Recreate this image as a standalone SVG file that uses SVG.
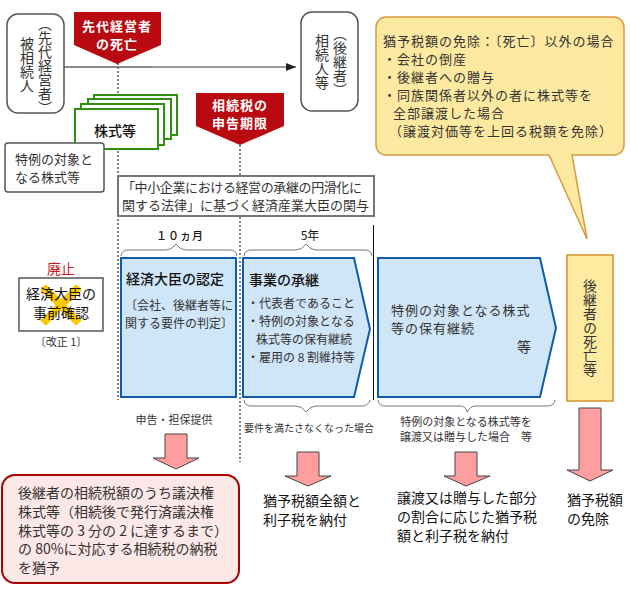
<svg xmlns="http://www.w3.org/2000/svg" width="630" height="600" viewBox="0 0 630 600">
<style>
text{font-family:"Noto Sans CJK JP","Noto Sans",sans-serif;fill:#333}
.dk{fill:#111}
.w{fill:#fff;font-weight:700;font-size:13px;letter-spacing:1px;text-anchor:middle}
.v{writing-mode:vertical-rl;text-anchor:middle;font-size:14px}
.t13{font-size:13px}.t14{font-size:14px}.t12{font-size:12px}.t11{font-size:11px}
.c{font-size:13px;letter-spacing:1px}
.rb{fill:#fff;stroke:#555;stroke-width:1.5}
.red{fill:#b80a10}
.st{fill:#fff;stroke:#2f9010;stroke-width:2}
.bl{fill:#cfe5f8;stroke:#0f5ca8;stroke-width:2}
.dot{fill:none;stroke:#555;stroke-width:1.5;stroke-dasharray:2 2}
.br{fill:none;stroke:#777;stroke-width:1}
.ar{fill:#ff9e9e;stroke:#444;stroke-width:1}
</style>
<defs><marker id="ah" markerWidth="10" markerHeight="8" refX="10" refY="4" orient="auto" markerUnits="userSpaceOnUse"><path d="M0 0L10 4L0 8Z" fill="#222"/></marker></defs>
<g id="connectors">
<path class="dot" d="M118 63V400"/>
<path class="dot" d="M240 145V462"/>
<path d="M64 67H152" stroke="#666" stroke-width="1.5" fill="none"/>
<path d="M152 67H296" stroke="#333" stroke-width="1" fill="none" marker-end="url(#ah)"/>
<path d="M373.500 225V400" stroke="#111" stroke-width="1" fill="none"/>
</g>
<g id="hisouzokunin"><rect class="rb" x="7" y="14" width="57" height="99" rx="11"/>
<text class="v" x="27" y="65">被相続人</text><text class="v" x="45" y="66">（先代経営者）</text></g>
<g id="souzokunin"><rect class="rb" x="301" y="12" width="57" height="99" rx="11"/>
<text class="v" x="322" y="62">相続人等</text><text class="v" x="340" y="62">（後継者）</text></g>
<g id="shibou"><path class="red" d="M74 12H161V45L117 64L74 45Z"/><text class="w" x="117" y="31">先代経営者</text><text class="w" x="117" y="49">の死亡</text></g>
<g id="kabushiki"><rect class="st" x="94" y="95" width="83" height="40"/><rect class="st" x="88" y="99" width="83" height="40"/><rect class="st" x="81" y="104" width="83" height="41"/><rect class="st" x="75" y="109" width="83" height="40"/>
<text class="t14 dk" x="115" y="136" text-anchor="middle" font-weight="500">株式等</text></g>
<g id="tokurei"><rect class="rb" x="5" y="143" width="99" height="49" rx="3"/><text class="t13" x="15" y="164">特例の対象と</text><text class="t13" x="15" y="182">なる株式等</text></g>
<g id="kigen"><path class="red" d="M196 93H284V126L240 145L196 126Z"/><text class="w" x="240" y="110">相続税の</text><text class="w" x="240" y="128">申告期限</text></g>
<g id="hou"><rect x="118" y="176" width="256" height="40" fill="#fff" stroke="#777" stroke-width="2"/>
<text class="t13" x="122" y="192" textLength="240">「中小企業における経営の承継の円滑化に</text><text class="t13" x="122" y="210">関する法律」に基づく経済産業大臣の関与</text></g>
<g id="menjo"><path d="M386 17H614A10 10 0 0 1 624 27V145A10 10 0 0 1 614 155H572L587 239L549 155H386A10 10 0 0 1 376 145V27A10 10 0 0 1 386 17Z" fill="#fde9a0" stroke="#d89a40" stroke-width="1.500"/>
<text class="c" x="383" y="46">猶予税額の免除：〔死亡〕以外の場合</text>
<text class="c" x="383" y="64">・会社の倒産</text><text class="c" x="383" y="82">・後継者への贈与</text><text class="c" x="383" y="100">・同族関係者以外の者に株式等を</text><text class="c" x="393" y="118">全部譲渡した場合</text><text class="c" x="389" y="136">（譲渡対価等を上回る税額を免除）</text></g>
<g id="braces">
<path class="br" d="M121 256Q122 250 128 250H166Q172 250 176 244Q180 250 186 250H230Q236 250 237 256"/>
<path class="br" d="M244 256Q245 250 251 250H296Q302 250 306 244Q310 250 316 250H365Q371 250 372 256"/>
<path class="br" d="M244 400Q245 406 251 406H296Q302 406 306 412Q310 406 316 406H362Q368 406 370 400"/>
<path class="br" d="M378 400Q379 406 385 406H460Q466 406 467 412Q470 406 476 406H548Q554 406 555 400"/>
<text class="t11 dk" x="180" y="240" text-anchor="middle" font-weight="500" letter-spacing="1">１０ヵ月</text>
<text class="t12 dk" x="310" y="240" text-anchor="middle">5年</text></g>
<g id="haishi"><text x="61" y="274" class="t14" style="fill:#c8181c" text-anchor="middle">廃止</text>
<rect x="19" y="278" width="84" height="53" fill="#fff" stroke="#555" stroke-width="1.500"/>
<path d="M43 287L79 323M79 287L43 323" stroke="#fdc800" stroke-width="8" fill="none"/>
<text class="t14 dk" x="61" y="299" text-anchor="middle">経済大臣の</text><text class="t14 dk" x="61" y="318" text-anchor="middle">事前確認</text>
<text class="t11" x="61" y="346" text-anchor="middle">〔改正 1〕</text></g>
<g id="nintei"><rect class="bl" x="121" y="258" width="115" height="139"/>
<text class="t14 dk" x="126" y="284" font-weight="500">経済大臣の認定</text><text class="t12" x="125" y="310">〔会社、後継者等に</text><text class="t12" x="125" y="328">関する要件の判定〕</text></g>
<g id="shokei"><path class="bl" d="M243 258H354L370 329L354 397H243Z"/>
<text class="t14 dk" x="249" y="285" font-weight="500">事業の承継</text>
<text class="t12" x="247" y="308">・代表者であること</text><text class="t12" x="247" y="326">・特例の対象となる</text><text class="t12" x="256" y="344">株式等の保有継続</text><text class="t12" x="247" y="362">・雇用の 8 割維持等</text></g>
<g id="hoyu"><path class="bl" d="M378 258H540L556 328L540 397H378Z"/>
<text class="c" x="391" y="315">特例の対象となる株式</text><text class="c" x="391" y="333">等の保有継続</text><text class="t14" x="517" y="352">等</text></g>
<g id="shibo"><rect x="567" y="255" width="46" height="146" fill="#fdeba0" stroke="#e0a850" stroke-width="2"/><text class="v" x="590" y="328">後継者の死亡等</text></g>
<g id="labels"><text class="t11" x="174" y="424" text-anchor="middle">申告・担保提供</text>
<text x="309" y="432" text-anchor="middle" style="font-size:10px">要件を満たさなくなった場合</text>
<text class="t11" x="466" y="426" text-anchor="middle">特例の対象となる株式等を</text><text class="t11" x="466" y="441" text-anchor="middle">譲渡又は贈与した場合　等</text></g>
<g id="arrows">
<path class="ar" d="M165 434H187V458H199L176 469L153 458H165Z"/>
<path class="ar" d="M297 452H319V476H331L308 486L285 476H297Z"/>
<path class="ar" d="M455 452H477V476H490L466 486L444 476H455Z"/>
<path class="ar" d="M579 408H601V470H613L590 481L567 470H579Z"/></g>
<g id="nouzei"><rect x="2" y="475" width="237" height="108" rx="13" fill="#fde8e8" stroke="#a80000" stroke-width="2"/>
<text class="t14" x="18" y="498">後継者の相続税額のうち議決権</text><text class="t14" x="18" y="517">株式等（相続後で発行済議決権</text><text class="t14" x="18" y="536">株式等の 3 分の 2 に達するまで）</text><text class="t14" x="18" y="554">の 80%に対応する相続税の納税</text><text class="t14" x="18" y="573">を猶予</text></g>
<g id="r2"><text class="t14 dk" x="263" y="506">猶予税額全額と</text><text class="t14 dk" x="263" y="525">利子税を納付</text></g>
<g id="r3"><text class="t14 dk" x="397" y="503">譲渡又は贈与した部分</text><text class="t14 dk" x="397" y="522">の割合に応じた猶予税</text><text class="t14 dk" x="397" y="541">額と利子税を納付</text></g>
<g id="r4"><text class="t14 dk" x="567" y="505">猶予税額</text><text class="t14 dk" x="567" y="524">の免除</text></g>
</svg>
